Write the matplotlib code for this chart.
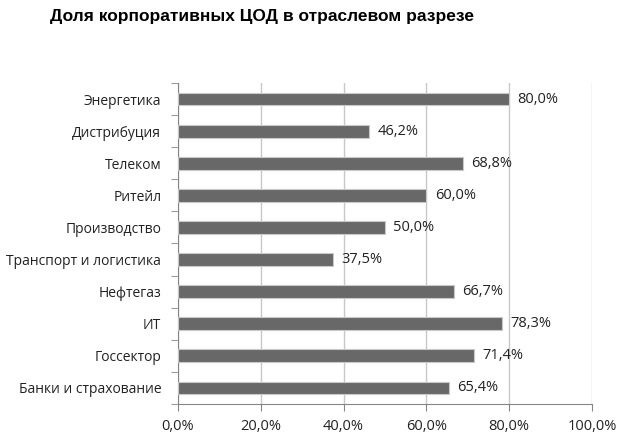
import matplotlib.pyplot as plt
import numpy as np
from matplotlib.ticker import FixedLocator

# Данные (сверху вниз на графике)
otrasli = ['Энергетика', 'Дистрибуция', 'Телеком', 'Ритейл', 'Производство',
           'Транспорт и логистика', 'Нефтегаз', 'ИТ', 'Госсектор', 'Банки и страхование']
doli = [80.0, 46.2, 68.8, 60.0, 50.0, 37.5, 66.7, 78.3, 71.4, 65.4]
x_ticks = [0, 20, 40, 60, 80, 100]

plt.rcParams['font.family'] = ['Open Sans', 'DejaVu Sans']

fig = plt.figure(figsize=(6.2, 4.34), dpi=100)
ax = fig.add_axes([178 / 620, 1 - 404 / 434, (592 - 178) / 620, (404 - 83) / 434])

y = np.arange(len(otrasli))[::-1]
ax.barh(y, doli, height=0.4, color='#686868', edgecolor='#c8c8c8', linewidth=0.8, zorder=3)

for yi, v in zip(y, doli):
    ax.text(v + 2, yi, f'{v:.1f}%'.replace('.', ','), va='center', ha='left',
            fontsize=10.5, color='#222222', zorder=4)

ax.set_xlim(0, 100)
ax.set_ylim(-0.5, len(otrasli) - 0.5)
ax.set_xticks(x_ticks)
ax.set_xticklabels([f'{t:.1f}%'.replace('.', ',') for t in x_ticks], fontsize=10.5, color='#222222')
ax.set_yticks(y)
ax.set_yticklabels(otrasli, fontsize=10, color='#222222')
ax.tick_params(axis='y', length=0, pad=12)
ax.yaxis.set_minor_locator(FixedLocator(np.arange(-0.5, len(otrasli), 1)))
ax.tick_params(axis='y', which='minor', length=5, color='#868686', direction='out')
ax.tick_params(axis='x', length=5, color='#868686', direction='out', pad=6)

ax.grid(axis='x', color='#c8c8c8', linewidth=1, zorder=0)
for s in ['top', 'right']:
    ax.spines[s].set_visible(False)
for s in ['left', 'bottom']:
    ax.spines[s].set_color('#868686')

fig.text(262 / 620, 1 - 16 / 434, 'Доля корпоративных ЦОД в отраслевом разрезе',
         ha='center', va='center', fontsize=12.5, fontweight='bold',
         family=['Liberation Sans', 'DejaVu Sans'])

plt.savefig('out.png', dpi=100)
plt.close()
